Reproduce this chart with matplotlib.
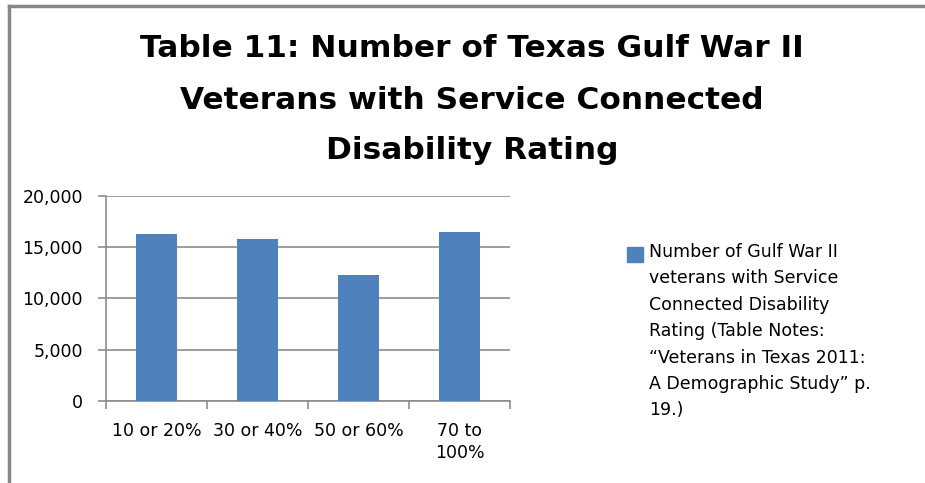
import numpy as np
import matplotlib.pyplot as plt
from matplotlib.lines import Line2D
from matplotlib.patches import Rectangle

categories = ["10 or 20%", "30 or 40%", "50 or 60%", "70 to\n100%"]
values = [16300, 15800, 12300, 16500]
yticks = [0, 5000, 10000, 15000, 20000]
ytick_labels = ["0", "5,000", "10,000", "15,000", "20,000"]
title_lines = ["Table 11: Number of Texas Gulf War II",
               "Veterans with Service Connected",
               "Disability Rating"]
series_label = ("Number of Gulf War II\nveterans with Service\nConnected Disability\n"
                "Rating (Table Notes:\n\u201cVeterans in Texas 2011:\nA Demographic Study\u201d p.\n19.)")

bar_color = "#4f81bd"
grid_color = "#8c8c8c"

plt.rcParams['font.family'] = ['DejaVu Sans']

fig = plt.figure(figsize=(9.25, 4.83), dpi=100)
ax = fig.add_axes([0.1146, 0.1698, 0.4368, 0.4244])

x = np.arange(len(categories))
ax.bar(x, values, width=0.4, color=bar_color, zorder=3)

ax.set_xlim(-0.5, len(categories) - 0.5)
ax.set_ylim(0, 20000)
ax.set_yticks(yticks)
ax.set_yticklabels(ytick_labels, fontsize=12.5)
ax.yaxis.grid(True, color=grid_color, linewidth=1.2, zorder=0)

# category ticks sit between the bars
ax.set_xticks(np.arange(len(categories) + 1) - 0.5)
ax.set_xticklabels([])
ax.set_xticks(x, minor=True)
ax.set_xticklabels(categories, minor=True, fontsize=12.5, linespacing=1.3)
ax.tick_params(axis='x', which='minor', length=0, pad=15)
ax.tick_params(axis='x', which='major', length=5.5, width=1.2, color=grid_color, direction='out')
ax.tick_params(axis='y', length=5.5, width=1.2, color=grid_color, pad=11)

for s in ["top", "right"]:
    ax.spines[s].set_visible(False)
for s in ["left", "bottom"]:
    ax.spines[s].set_color(grid_color)
    ax.spines[s].set_linewidth(1.2)

title_y = [0.881, 0.774, 0.671]
for line, ty in zip(title_lines, title_y):
    fig.text(0.510, ty, line, ha='center', va='baseline', fontsize=22.5, fontweight='bold')

# legend: single series, key square aligned with the first text line
fig.add_artist(Rectangle((0.678, 0.4576), 16 / 925, 15 / 483, color=bar_color,
                         transform=fig.transFigure))
fig.text(0.7016, 0.4968, series_label, ha='left', va='top', fontsize=12.5, linespacing=1.6)

# outer chart frame (cropped on right and bottom)
fig.add_artist(Line2D([0.0097, 0.0097], [0, 0.988], color='#888888', linewidth=2.5,
                      transform=fig.transFigure))
fig.add_artist(Line2D([0.0097, 1], [0.988, 0.988], color='#888888', linewidth=2.5,
                      transform=fig.transFigure))

fig.savefig("out.png", dpi=100)
